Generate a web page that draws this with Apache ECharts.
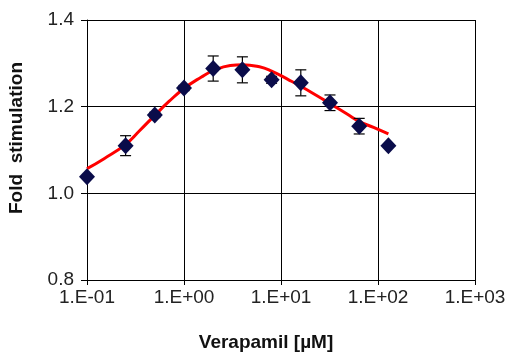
<!DOCTYPE html>
<html>
<head>
<meta charset="utf-8">
<script src="https://cdn.jsdelivr.net/npm/echarts@6/dist/echarts.min.js"></script>
<style>html,body{margin:0;padding:0;background:#fff}#c{width:509px;height:356px}</style>
</head>
<body>
<div id="c"></div>
<script>
// Data points (Verapamil concentration in µM)
const concentrations = [0.1, 0.25, 0.5, 1, 2, 4, 8, 16, 32, 64, 128];
const foldMeans = [1.038, 1.110, 1.181, 1.243, 1.288, 1.285, 1.262, 1.255, 1.209, 1.155, 1.110];
const foldErrors = [0, 0.023, 0.006, 0.006, 0.029, 0.030, 0.008, 0.030, 0.018, 0.018, 0];
// Fitted curve
const fitX = [0.1, 0.15, 0.25, 0.35, 0.5, 0.7, 1, 1.5, 2, 3, 4, 6, 8, 12, 16, 24, 32, 48, 64, 90, 128];
const fitY = [1.057, 1.080, 1.113, 1.145, 1.180, 1.212, 1.242, 1.268, 1.283, 1.295, 1.297, 1.292, 1.282, 1.262, 1.247, 1.224, 1.207, 1.183, 1.166, 1.152, 1.137];
const xTickLabels = {'0.1': '1.E-01', '1': '1.E+00', '10': '1.E+01', '100': '1.E+02', '1000': '1.E+03'};
const yTicks = [0.8, 1.0, 1.2, 1.4];

const chart = echarts.init(document.getElementById('c'));
const font = 'Liberation Sans, Arial, sans-serif';
chart.setOption({
  animation: false,
  grid: {left: 87, right: 34, top: 20, bottom: 76},
  xAxis: {
    type: 'log', logBase: 10, min: 0.1, max: 1000,
    axisLine: {lineStyle: {color: '#000', width: 1}},
    axisTick: {show: true, length: 5, lineStyle: {color: '#000'}},
    splitLine: {show: true, lineStyle: {color: '#000', width: 1}},
    minorTick: {show: false},
    axisLabel: {
      color: '#222', fontFamily: font, fontSize: 19, margin: 8,
      formatter: v => {
        const key = String(+v.toPrecision(3));
        return xTickLabels[key] !== undefined ? xTickLabels[key] : '';
      }
    }
  },
  yAxis: {
    type: 'value', min: yTicks[0], max: yTicks[yTicks.length - 1], interval: 0.2,
    axisLine: {show: true, lineStyle: {color: '#000', width: 1}},
    axisTick: {show: true, length: 6, lineStyle: {color: '#000'}},
    splitLine: {show: true, lineStyle: {color: '#000', width: 1}},
    axisLabel: {color: '#222', fontFamily: font, fontSize: 19, margin: 13, formatter: v => v.toFixed(1)}
  },
  graphic: [
    {type: 'text', x: 17, y: 138, rotation: Math.PI / 2, style: {text: 'Fold  stimulation', font: 'bold 19px ' + font, fill: '#111', textAlign: 'center', textVerticalAlign: 'middle'}},
    {type: 'text', x: 266, y: 343, style: {text: 'Verapamil [µM]', font: 'bold 19px ' + font, fill: '#111', textAlign: 'center', textVerticalAlign: 'middle'}}
  ],
  series: [
    {
      type: 'line', smooth: true, symbol: 'none', z: 2,
      lineStyle: {color: '#ff0000', width: 3},
      data: fitX.map((x, i) => [x, fitY[i]])
    },
    {
      type: 'custom', z: 3,
      data: concentrations.map((x, i) => [x, foldMeans[i], foldErrors[i]]),
      renderItem: function (params, api) {
        const x = api.value(0), y = api.value(1), e = api.value(2);
        if (!e) return null;
        const top = api.coord([x, y + e]);
        const bot = api.coord([x, y - e]);
        const w = 5.5;
        const st = {stroke: '#000', lineWidth: 1.2};
        return {
          type: 'group',
          children: [
            {type: 'line', shape: {x1: top[0], y1: top[1], x2: bot[0], y2: bot[1]}, style: st},
            {type: 'line', shape: {x1: top[0] - w, y1: top[1], x2: top[0] + w, y2: top[1]}, style: st},
            {type: 'line', shape: {x1: bot[0] - w, y1: bot[1], x2: bot[0] + w, y2: bot[1]}, style: st}
          ]
        };
      }
    },
    {
      type: 'scatter', z: 4, symbol: 'diamond', symbolSize: [16, 17],
      itemStyle: {color: '#0a0c4a', opacity: 1},
      data: concentrations.map((x, i) => [x, foldMeans[i]])
    }
  ]
});
</script>
</body>
</html>
